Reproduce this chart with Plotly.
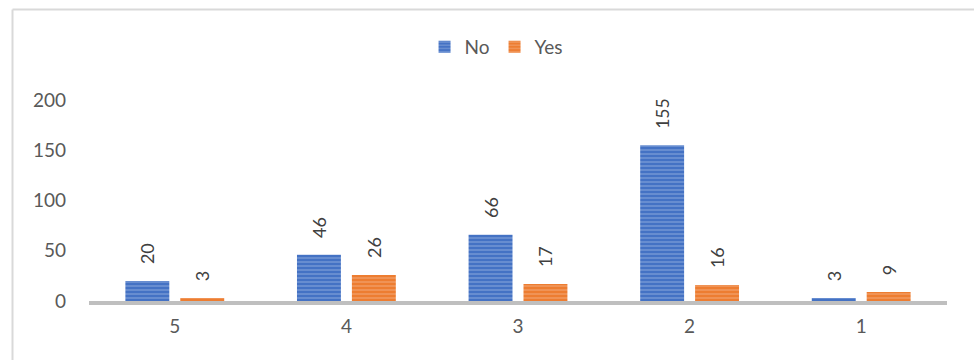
import plotly.graph_objects as go

categories = ["5", "4", "3", "2", "1"]
no_values = [20, 46, 66, 155, 3]
yes_values = [3, 26, 17, 16, 9]
y_ticks = [0, 50, 100, 150, 200]

FONT = "Lato"
GREY_TEXT = "#595959"
PAD = "\u00a0\u00a0\u00a0"  # lifts the rotated value labels off the bar tops

fig = go.Figure()
fig.add_trace(go.Bar(
    name="No", x=categories, y=no_values,
    marker=dict(color="#4472C4", line=dict(width=0),
                pattern=dict(shape="-", fgcolor="#A9BEE6", size=4, solidity=0.35)),
    text=[f"{PAD}{v}" for v in no_values], textposition="outside", textangle=-90,
    textfont=dict(family=FONT, size=18, color="#404040"), cliponaxis=False,
))
fig.add_trace(go.Bar(
    name="Yes", x=categories, y=yes_values,
    marker=dict(color="#ED7D31", line=dict(width=0),
                pattern=dict(shape="-", fgcolor="#F6BB97", size=4, solidity=0.35)),
    text=[f"{PAD}{v}" for v in yes_values], textposition="outside", textangle=-90,
    textfont=dict(family=FONT, size=18, color="#404040"), cliponaxis=False,
))

fig.update_layout(
    width=974, height=360,
    margin=dict(l=89, r=27, t=80, b=59),
    paper_bgcolor="white", plot_bgcolor="white",
    barmode="group", bargap=0.36, bargroupgap=0.2,
    font=dict(family=FONT, size=19, color=GREY_TEXT),
    legend=dict(orientation="h", x=0.475, xanchor="center",
                y=1 - 47 / 360, yanchor="middle", yref="container",
                font=dict(family=FONT, size=19, color=GREY_TEXT),
                traceorder="normal"),
    showlegend=True,
    xaxis=dict(showline=True, linecolor="#BFBFBF", linewidth=4, ticks="",
               tickfont=dict(family=FONT, size=19, color=GREY_TEXT), ticklabelstandoff=5),
    yaxis=dict(range=[0, 220], tickvals=y_ticks, showgrid=False, zeroline=False,
               showline=False, ticks="", ticklabelstandoff=22,
               tickfont=dict(family=FONT, size=19, color=GREY_TEXT)),
    shapes=[
        dict(type="line", xref="paper", yref="paper",
             x0=(12.5 - 89) / 858, x1=(974 - 89) / 858,
             y0=(360 - 59 - 9.5) / 221, y1=(360 - 59 - 9.5) / 221,
             line=dict(color="#D9D9D9", width=2)),
        dict(type="line", xref="paper", yref="paper",
             x0=(12.5 - 89) / 858, x1=(12.5 - 89) / 858,
             y0=(360 - 59 - 9.5) / 221, y1=-1,
             line=dict(color="#D9D9D9", width=2)),
    ],
)

fig.write_html("out.html")
